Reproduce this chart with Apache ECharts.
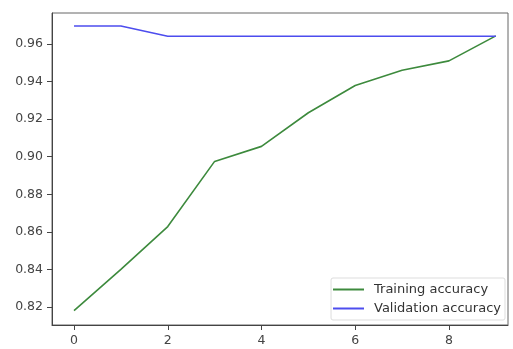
<!DOCTYPE html>
<html>
<head>
<meta charset="utf-8">
<script src="https://cdn.jsdelivr.net/npm/echarts@6/dist/echarts.min.js"></script>
<style>html,body{margin:0;padding:0;background:#fff}#c{width:513px;height:349px}</style>
</head>
<body>
<div id="c"></div>
<script>
const epochs = [0,1,2,3,4,5,6,7,8,9];
const trainingAcc = [0.818,0.840,0.8628,0.8975,0.9055,0.9234,0.9379,0.946,0.951,0.9643];
const validationAcc = [0.9696,0.9696,0.9641,0.9641,0.9641,0.9641,0.9641,0.9641,0.9641,0.9641];
const xTicks = [0,2,4,6,8];
const yTicks = [0.82,0.84,0.86,0.88,0.90,0.92,0.94,0.96];
const seriesNames = ['Training accuracy','Validation accuracy'];

const chart = echarts.init(document.getElementById('c'));
const font = 'DejaVu Sans';
chart.setOption({
  animation: false,
  backgroundColor: '#fff',
  grid: {left: 52, right: 5, top: 13, bottom: 24, show: true, borderColor: '#666', borderWidth: 1, containLabel: false},
  xAxis: {
    type: 'value', min: -0.47, max: 9.26,
    axisLine: {show: true, onZero: false, lineStyle: {color: '#444'}},
    axisTick: {show: true, length: 5, customValues: xTicks, lineStyle: {color: '#444'}},
    axisLabel: {customValues: xTicks, color: '#444', fontSize: 12.5, fontFamily: font, margin: 9},
    splitLine: {show: false}
  },
  yAxis: {
    type: 'value', min: 0.8104, max: 0.9765,
    axisLine: {show: true, onZero: false, lineStyle: {color: '#444'}},
    axisTick: {show: true, length: 5, customValues: yTicks, lineStyle: {color: '#444'}},
    axisLabel: {customValues: yTicks, color: '#444', fontSize: 12.5, fontFamily: font, margin: 9,
      formatter: v => v.toFixed(2)},
    splitLine: {show: false}
  },
  legend: {
    right: 8, bottom: 29, orient: 'vertical',
    data: seriesNames,
    icon: 'rect', itemWidth: 31, itemHeight: 2, itemGap: 6,
    backgroundColor: '#fff', borderColor: '#ddd', borderWidth: 1, borderRadius: 2,
    padding: [5, 4, 5, 2],
    textStyle: {color: '#333', fontSize: 13, fontFamily: font, padding: [0,0,0,5]}
  },
  series: [
    {name: seriesNames[0], type: 'line', data: epochs.map((e,i)=>[e,trainingAcc[i]]),
     showSymbol: false, symbol: 'none', lineStyle: {color: '#3d8a3d', width: 1.6}, itemStyle: {color: '#3d8a3d'}},
    {name: seriesNames[1], type: 'line', data: epochs.map((e,i)=>[e,validationAcc[i]]),
     showSymbol: false, symbol: 'none', lineStyle: {color: '#4d4dee', width: 1.6}, itemStyle: {color: '#4d4dee'}}
  ]
});
</script>
</body>
</html>
